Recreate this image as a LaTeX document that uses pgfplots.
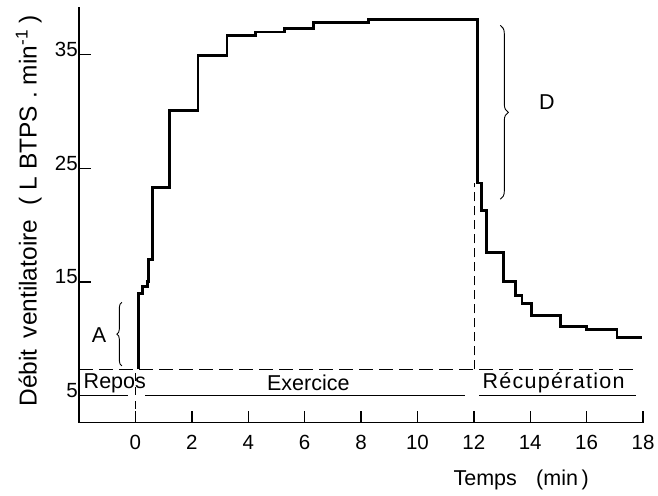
\documentclass[border=0pt]{standalone}
\usepackage{fontspec}
\setmainfont{Liberation Sans}
\usepackage{pgfplots}
\pgfplotsset{compat=1.18}
\usetikzlibrary{decorations.pathreplacing}

\begin{document}
\begin{tikzpicture}[font=\fontsize{21.5}{24}\selectfont]
\begin{axis}[
  scale only axis, width=564pt, height=415.7pt,
  xmin=-2, xmax=18, ymin=2.6, ymax=39.2,
  axis x line*=bottom, axis y line*=left,
  axis line style={line width=1.4pt,-},
  xtick={0,2,...,18}, ytick={5,15,25,35},
  tick align=inside, major tick length=12pt,
  tick style={line width=1.4pt, black},
  /pgf/number format/assume math mode=true,
  tick label style={font=\fontsize{20.5}{23}\selectfont},
  xticklabel style={yshift=-9pt},
  yticklabel style={inner sep=1pt, yshift=5pt},
  xlabel={Temps\hspace{0.9em}(min\,)},
  ylabel={Débit\hspace{0.45em}ventilatoire\hspace{0.6em}( L BTPS . min\textsuperscript{-1} )},
  xlabel style={at={(axis description cs:0.784,-0.138)},anchor=center},
  ylabel style={at={(axis description cs:-0.089,0.510)},anchor=center,font=\fontsize{24.5}{27}\selectfont},
  clip=false,
]
% ventilation curve
\addplot[const plot, line width=2.8pt, line join=miter, black] coordinates {
  (0.12,7.3) (0.12,14.0) (0.25,14.6) (0.42,15.0) (0.47,17.0) (0.62,23.3)
  (1.20,30.1) (2.22,34.9) (3.25,36.7) (4.26,37.0) (5.28,37.3) (6.32,37.85)
  (8.27,38.1) (12.13,23.7) (12.28,21.3) (12.46,17.6) (13.06,15.0)
  (13.48,13.8) (13.71,13.1) (14.06,12.05) (15.07,11.05) (15.99,10.8)
  (17.08,10.07) (17.97,10.07)
};
% dashed rest level
\addplot[black, line width=1.4pt, dash pattern=on 14pt off 6pt] coordinates {(-2,7.3) (17.78,7.3)};
% dashed verticals
\addplot[black, line width=1.4pt, dash pattern=on 9pt off 5pt] coordinates {(12.03,7.3) (12.03,23.7)};
\addplot[black, line width=1.2pt, dash pattern=on 8pt off 6pt] coordinates {(0,2.6) (0,7.3)};
% phase bars
\addplot[black, line width=1.6pt] coordinates {(-2,5) (-0.26,5)};
\addplot[black, line width=1.6pt] coordinates {(0.35,5) (11.70,5)};
\addplot[black, line width=1.6pt] coordinates {(12.20,5) (17.76,5)};
% phase labels
\node at (axis cs:-0.73,6.1) {Repos};
\node at (axis cs:6.13,6.1) {Exercice};
\node at (axis cs:14.83,6.1) {\addfontfeature{LetterSpace=6}Récupération};
% braces
\draw[decorate, decoration={brace, amplitude=5pt}, line width=0.9pt] (axis cs:-0.48,7.6) -- (axis cs:-0.48,13.2);
\node at (axis cs:-1.29,10.3) {A};
\draw[decorate, decoration={brace, amplitude=8pt}, line width=0.9pt] (axis cs:12.94,37.58) -- (axis cs:12.94,22.27);
\node at (axis cs:14.59,30.83) {D};
\end{axis}
\pgfresetboundingbox
\path[use as bounding box] ([shift={(-79pt,-72.3pt)}]current axis.south west) rectangle ([shift={(579pt,422.7pt)}]current axis.south west);
\end{tikzpicture}
\end{document}
